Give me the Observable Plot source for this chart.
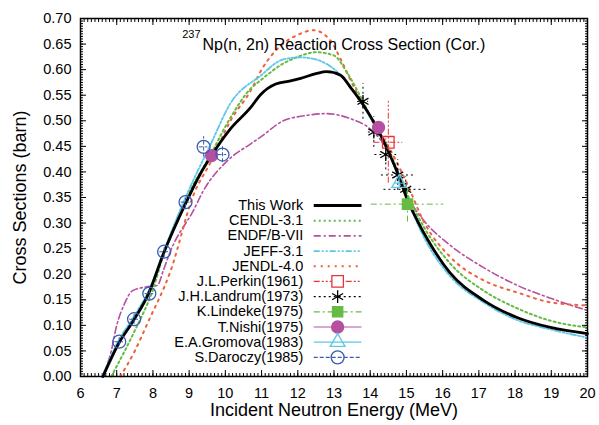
<!DOCTYPE html>
<html><head><meta charset="utf-8">
<script src="https://cdn.jsdelivr.net/npm/d3@7"></script>
<script src="https://cdn.jsdelivr.net/npm/@observablehq/plot@0.6"></script>
<style>body{margin:0;background:#fff;font-family:"Liberation Sans",Arial,sans-serif}</style>
</head><body><div id="chart"></div>
<script>
// ---- Evaluated curves (energy MeV, cross section barn) ----
const thisWorkE = [6.62,7.05,7.46,7.88,8.29,8.9,9.3,9.6,10.14,10.7,10.97,11.39,11.8,12.08,12.5,12.8,13.18,13.46,13.82,14.15,14.5,14.8,15.0,15.3,15.6,16.2,17.13,18.07,18.98,20];
const thisWorkV = [0,0.064,0.109,0.162,0.24,0.338,0.395,0.43,0.484,0.526,0.551,0.572,0.578,0.583,0.592,0.596,0.589,0.565,0.53,0.491,0.44,0.39,0.35,0.305,0.266,0.203,0.149,0.115,0.096,0.084];
const cendlE = [6.85,7.0,7.5,8.0,8.3,8.9,9.6,10.14,10.7,10.97,11.6,12.0,12.5,12.99,13.38,13.74,14.1,14.5,15.0,15.5,16.22,17.13,18.07,18.98,20];
const cendlV = [0,0.02,0.09,0.17,0.24,0.345,0.435,0.506,0.563,0.579,0.612,0.625,0.634,0.628,0.592,0.546,0.495,0.445,0.36,0.29,0.22,0.168,0.133,0.109,0.096];
const endfE = [6.6,6.85,7.0,7.2,7.44,7.8,8.12,8.3,8.49,9.12,9.4,10.06,10.7,10.97,11.6,12.2,12.77,13.46,14.0,14.5,15.0,15.48,16.22,17.13,18.07,18.98,20];
const endfV = [0,0.05,0.1,0.14,0.168,0.175,0.178,0.21,0.246,0.325,0.364,0.422,0.455,0.468,0.5,0.51,0.514,0.504,0.484,0.44,0.355,0.305,0.256,0.213,0.178,0.153,0.129];
const jeffE = [6.6,7.05,7.5,7.9,8.3,8.9,9.6,10.14,10.97,11.6,12.08,12.5,12.77,13.1,13.38,13.8,14.15,14.5,14.8,15.0,15.5,16.22,17.13,18.07,18.98,20];
const jeffV = [0,0.07,0.12,0.17,0.245,0.35,0.455,0.534,0.588,0.62,0.624,0.62,0.612,0.595,0.573,0.53,0.488,0.44,0.385,0.35,0.27,0.195,0.145,0.11,0.092,0.076];
const jendlE = [7.1,7.5,7.85,8.49,9.12,9.6,10.14,10.7,11.0,11.6,12.0,12.44,12.9,13.18,13.46,13.74,14.1,14.5,15.0,15.5,16.22,17.13,18.07,18.98,20];
const jendlV = [0,0.05,0.104,0.207,0.355,0.42,0.5,0.559,0.6,0.651,0.668,0.677,0.657,0.621,0.579,0.54,0.495,0.45,0.38,0.3,0.233,0.188,0.164,0.145,0.139];

// ---- Experimental data ----
const perkinE = [14.5], perkinV = [0.458], perkinDE = [0.4], perkinDV = [0.08];
const landrumE = [13.8,14.1,14.43,14.76,14.98], landrumV = [0.538,0.478,0.434,0.394,0.366];
const landrumDE = [0.15,0.15,0.3,0.45,0.6], landrumDV = [0.035,0.03,0.03,0.03,0.025];
const lindekeE = [15.03], lindekeV = [0.337], lindekeDE = [1.0], lindekeDV = [0.035];
const nishiE = [9.62,14.23], nishiV = [0.432,0.487], nishiDE = [0.1,0.1], nishiDV = [0.01,0.01];
const gromovaE = [14.8], gromovaV = [0.378], gromovaDE = [0.12], gromovaDV = [0.012];
const daroczyE = [7.07,7.48,7.9,8.31,8.9,9.4,9.92], daroczyV = [0.068,0.112,0.162,0.244,0.341,0.449,0.434];
const daroczyDE = [0.12,0.12,0.12,0.12,0.12,0.12,0.12], daroczyDV = [0.008,0.01,0.012,0.012,0.012,0.02,0.016];

// ---- Labels ----
const legendLabels = ["This Work","CENDL-3.1","ENDF/B-VII","JEFF-3.1","JENDL-4.0","J.L.Perkin(1961)","J.H.Landrum(1973)","K.Lindeke(1975)","T.Nishi(1975)","E.A.Gromova(1983)","S.Daroczy(1985)"];
const xTicks = d3.range(6, 21, 1);
const yTicks = d3.range(0, 0.7001, 0.05).map(v => +v.toFixed(2));
const titleMain = "Np(n, 2n) Reaction Cross Section (Cor.)";
const titleSup = "237";
const xLabel = "Incident Neutron Energy (MeV)";
const yLabel = "Cross Sections (barn)";

const rows = (E, V) => E.map((e, i) => ({E: e, v: V[i]}));
const erows = (E, V, DE, DV) => E.map((e, i) => ({E: e, v: V[i], dE: DE[i], dV: DV[i]}));

const curves = [
  {E: endfE, V: endfV, stroke: "#b4509f", w: 1.6, dash: "7,3,2,3"},
  {E: jendlE, V: jendlV, stroke: "#f0603a", w: 2, dash: "2,5"},
  {E: cendlE, V: cendlV, stroke: "#66bb44", w: 2, dash: "2,3"},
  {E: jeffE, V: jeffV, stroke: "#5ec6e6", w: 1.8, dash: "6,2,2,2,2,2"},
  {E: thisWorkE, V: thisWorkV, stroke: "#000", w: 2.8, dash: null}
];

const exps = [
  {d: erows(perkinE, perkinV, perkinDE, perkinDV), color: "#e8333a", dash: "6,2,2,2,2,2", symbol: "square", fill: "none", r: 6.5},
  {d: erows(landrumE, landrumV, landrumDE, landrumDV), color: "#000", dash: "2,3", symbol: "asterisk", fill: "none", r: 6},
  {d: erows(lindekeE, lindekeV, lindekeDE, lindekeDV), color: "#66bb44", dash: "6,3,2,3", symbol: "square", fill: "#66bb44", r: 5.8},
  {d: erows(nishiE, nishiV, nishiDE, nishiDV), color: "#b4509f", dash: null, symbol: "circle", fill: "#b4509f", r: 6},
  {d: erows(gromovaE, gromovaV, gromovaDE, gromovaDV), color: "#5ec6e6", dash: null, symbol: "triangle", fill: "none", r: 5.5},
  {d: erows(daroczyE, daroczyV, daroczyDE, daroczyDV), color: "#3a5db0", dash: "4,2", symbol: "circle", fill: "none", r: 6.5}
];

const legendStyles = [
  {stroke: "#000", w: 2.8, dash: null},
  {stroke: "#66bb44", w: 2, dash: "2,3"},
  {stroke: "#b4509f", w: 1.6, dash: "7,3,2,3"},
  {stroke: "#5ec6e6", w: 1.8, dash: "6,2,2,2,2,2"},
  {stroke: "#f0603a", w: 2, dash: "2,5"},
  ...exps.map(e => ({stroke: e.color, w: 1.2, dash: e.dash, symbol: e.symbol, fill: e.fill, r: e.r}))
];
const legY = i => 0.3344 - i * 0.0297;
const legTextX = 12.15, legX1 = 12.44, legX2 = 13.76, legMarkX = 13.1;

const marks = [];
// inward ticks on all four sides
const xMinor = d3.range(6, 20.001, 0.1);
const yMinor = d3.range(0, 0.7001, 0.005);
const tk = {fill: "none", label: null, stroke: "#000", strokeWidth: 1};
marks.push(Plot.axisX({anchor: "bottom", ticks: xTicks, tickSize: 6, dy: -6, ...tk}));
marks.push(Plot.axisX({anchor: "bottom", ticks: xMinor, tickSize: 3, dy: -3, ...tk}));
marks.push(Plot.axisX({anchor: "top", ticks: xTicks, tickSize: 6, dy: 6, ...tk}));
marks.push(Plot.axisX({anchor: "top", ticks: xMinor, tickSize: 3, dy: 3, ...tk}));
marks.push(Plot.axisY({anchor: "left", ticks: yTicks, tickSize: 6, dx: 6, ...tk}));
marks.push(Plot.axisY({anchor: "left", ticks: yMinor, tickSize: 3, dx: 3, ...tk}));
marks.push(Plot.axisY({anchor: "right", ticks: yTicks, tickSize: 6, dx: -6, ...tk}));
marks.push(Plot.axisY({anchor: "right", ticks: yMinor, tickSize: 3, dx: -3, ...tk}));
marks.push(Plot.axisX({anchor: "bottom", ticks: xTicks, tickSize: 0, tickPadding: 11, label: null, tickFormat: d => String(d), fontSize: 14.5, fill: "#000"}));
marks.push(Plot.axisY({anchor: "left", ticks: yTicks, tickSize: 0, tickPadding: 9, label: null, tickFormat: d => d.toFixed(2), fontSize: 14.5, fill: "#000"}));

// curves
for (const c of curves) {
  marks.push(Plot.line(rows(c.E, c.V), {x: "E", y: "v", stroke: c.stroke, strokeWidth: c.w, strokeDasharray: c.dash, curve: "monotone-x"}));
}
// experimental points with error bars
for (const e of exps) {
  marks.push(Plot.ruleY(e.d, {y: "v", x1: d => d.E - d.dE, x2: d => d.E + d.dE, stroke: e.color, strokeWidth: 1, strokeDasharray: e.dash}));
  marks.push(Plot.ruleX(e.d, {x: "E", y1: d => d.v - d.dV, y2: d => d.v + d.dV, stroke: e.color, strokeWidth: 1, strokeDasharray: e.dash}));
  marks.push(Plot.dot(e.d, {x: "E", y: "v", symbol: () => e.symbol, r: e.r, stroke: e.color, fill: e.fill, strokeWidth: 1.3}));
}
// legend
marks.push(Plot.text(legendLabels, {x: () => legTextX, y: (d, i) => legY(i), text: d => d, textAnchor: "end", fontSize: 14.5, fill: "#000"}));
legendStyles.forEach((s, i) => {
  marks.push(Plot.link([i], {x1: () => legX1, x2: () => legX2, y1: () => legY(i), y2: () => legY(i), stroke: s.stroke, strokeWidth: s.w, strokeDasharray: s.dash}));
  if (s.symbol) {
    marks.push(Plot.dot([i], {x: () => legMarkX, y: () => legY(i), symbol: () => s.symbol, r: s.r, stroke: s.stroke, fill: s.symbol === "square" && s.fill === "none" ? "white" : s.fill, strokeWidth: 1.3}));
  }
});
// title and axis labels
marks.push(Plot.text([titleSup], {frameAnchor: "top-left", dx: 120, dy: 12, textAnchor: "end", fontSize: 11, fill: "#000"}));
marks.push(Plot.text([titleMain], {frameAnchor: "top-left", dx: 122, dy: 20, textAnchor: "start", fontSize: 16, fill: "#000"}));
marks.push(Plot.text([xLabel], {frameAnchor: "bottom", dy: 39, fontSize: 18, fill: "#000"}));
marks.push(Plot.text([yLabel], {frameAnchor: "left", dx: -60, rotate: -90, textAnchor: "middle", lineAnchor: "middle", fontSize: 18, fill: "#000"}));
marks.push(Plot.frame({stroke: "#000", strokeWidth: 1.5}));

const chart = Plot.plot({
  width: 599, height: 425,
  marginLeft: 80, marginRight: 12, marginTop: 18, marginBottom: 49,
  style: {fontFamily: "Liberation Sans, Arial, sans-serif", background: "#fff", color: "#000"},
  x: {domain: [6, 20], axis: null},
  y: {domain: [0, 0.7], axis: null},
  marks
});
document.getElementById("chart").appendChild(chart);
</script>
</body></html>
